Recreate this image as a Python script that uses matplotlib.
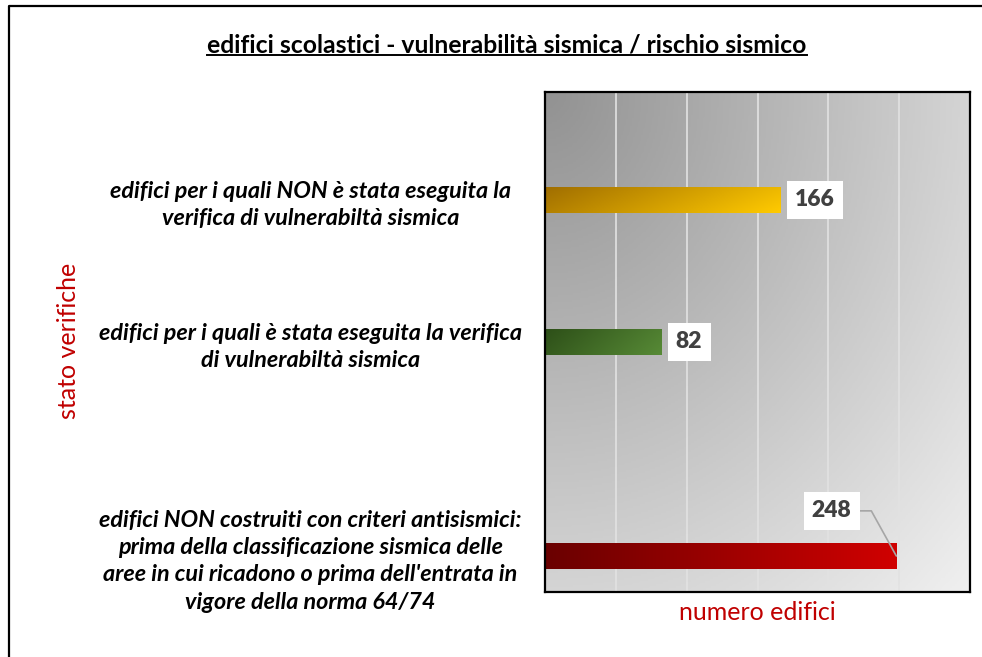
import numpy as np
import matplotlib
import matplotlib.pyplot as plt
from matplotlib.colors import LinearSegmentedColormap
from matplotlib.lines import Line2D

# data
categories = [
    "edifici per i quali NON è stata eseguita la\nverifica di vulnerabiltà sismica",
    "edifici per i quali è stata eseguita la verifica\ndi vulnerabiltà sismica",
    "edifici NON costruiti con criteri antisismici:\nprima della classificazione sismica delle\n"
    "aree in cui ricadono o prima dell'entrata in\nvigore della norma 64/74",
]
values = [166, 82, 248]
title = "edifici scolastici - vulnerabilità sismica / rischio sismico"
xlabel = "numero edifici"
ylabel = "stato verifiche"

# layout (axis units from top, 0..500)
BAR_POS = [108, 250, 464]
BAR_H = 27
GRAD = [("#a06e00", "#ffca00", "diag"), ("#2d4f18", "#578a36", "diag"), ("#6a0000", "#d00000", "h")]
RED = "#c00000"
INK = "#404040"
FONT = ["Lato", "DejaVu Sans"]
DPI = 100

plt.rcParams["font.family"] = FONT

fig = plt.figure(figsize=(9.82, 6.57), dpi=DPI)
ax = fig.add_axes([545 / 982, 1 - 592 / 657, 425 / 982, 500 / 657])
ax.set_xlim(0, 300)
ax.set_ylim(500, 0)

# background: radial gradient out of the top-left corner
n = 256
xx, yy = np.meshgrid(np.linspace(0, 1, n), np.linspace(0, 1, n))
bg = LinearSegmentedColormap.from_list("bg", ["#929292", "#f0f0f0"])
ax.imshow(np.hypot(xx, yy) / np.sqrt(2), cmap=bg, extent=(0, 1, 0, 1),
          transform=ax.transAxes, aspect="auto", zorder=0, origin="upper",
          vmin=0, vmax=1)

ax.set_xticks(np.arange(50, 300, 50))
ax.set_axisbelow(True)
ax.grid(axis="x", color="#e2e2e2", linewidth=1.2)
ax.tick_params(axis="x", length=0, labelbottom=False)

bars = ax.barh(BAR_POS, values, height=BAR_H, color="none", zorder=2)
for bar, (c0, c1, mode) in zip(bars, GRAD):
    x0, y0 = bar.get_x(), bar.get_y()
    w, h = bar.get_width(), bar.get_height()
    gx, gy = np.meshgrid(np.linspace(0, 1, 128), np.linspace(0, 1, 16))
    g = (gx * 0.8 + gy * 0.2) if mode == "diag" else gx
    cm = LinearSegmentedColormap.from_list("b", [c0, c1])
    im = ax.imshow(g, cmap=cm, extent=(x0, x0 + w, y0 + h, y0), aspect="auto",
                   origin="upper", zorder=2, vmin=0, vmax=1)
    im.set_clip_path(bar)

box = dict(boxstyle="square,pad=0.36", fc="white", ec="none")
for i in range(2):
    ax.annotate(str(values[i]), (values[i], BAR_POS[i]), xytext=(10.5, 0),
                textcoords="offset points", ha="left", va="center",
                fontsize=16.5, fontweight="heavy", color=INK, bbox=box, zorder=5)
ax.annotate(str(values[2]), (values[2], BAR_POS[2]), xytext=(-46.5, 32.5),
            textcoords="offset points", ha="center", va="center",
            fontsize=16.5, fontweight="heavy", color=INK, bbox=box, zorder=5,
            arrowprops=dict(arrowstyle="-", color="#a6a6a6", lw=1.2, relpos=(1, 0.5),
                            shrinkA=0, shrinkB=0,
                            connectionstyle="angle,angleA=0,angleB=119,rad=0"))

ax.set_yticks(BAR_POS)
ax.set_yticklabels(categories, fontsize=16.8, fontweight="bold", style="italic",
                   color="black", linespacing=1.38)
ax.tick_params(axis="y", length=0, pad=169)
for lab in ax.get_yticklabels():
    lab.set_ha("center")
    lab.set_multialignment("center")

for s in ax.spines.values():
    s.set_linewidth(1.6)
    s.set_color("black")
    s.set_zorder(6)

fig.text(757 / 982, 1 - 613 / 657, xlabel, ha="center", va="center",
         fontsize=18, color=RED)
fig.text(68 / 982, 1 - 341 / 657, ylabel, ha="center", va="center", rotation=90,
         fontsize=18, color=RED)

t = fig.text(507 / 982, 1 - 45 / 657, title, ha="center", va="center",
             fontsize=17.8, fontweight="bold", color="black")
fig.canvas.draw()
bb = t.get_window_extent().transformed(fig.transFigure.inverted())
fig.add_artist(Line2D([bb.x0, bb.x1], [bb.y0 + 0.002, bb.y0 + 0.002],
                      transform=fig.transFigure, color="black", lw=1.4))

# outer frame (left and top only visible)
fig.add_artist(Line2D([9 / 982, 9 / 982, 1], [0, 1 - 6 / 657, 1 - 6 / 657],
                      transform=fig.transFigure, color="black", lw=1.6))

fig.savefig("out.png", dpi=DPI)
